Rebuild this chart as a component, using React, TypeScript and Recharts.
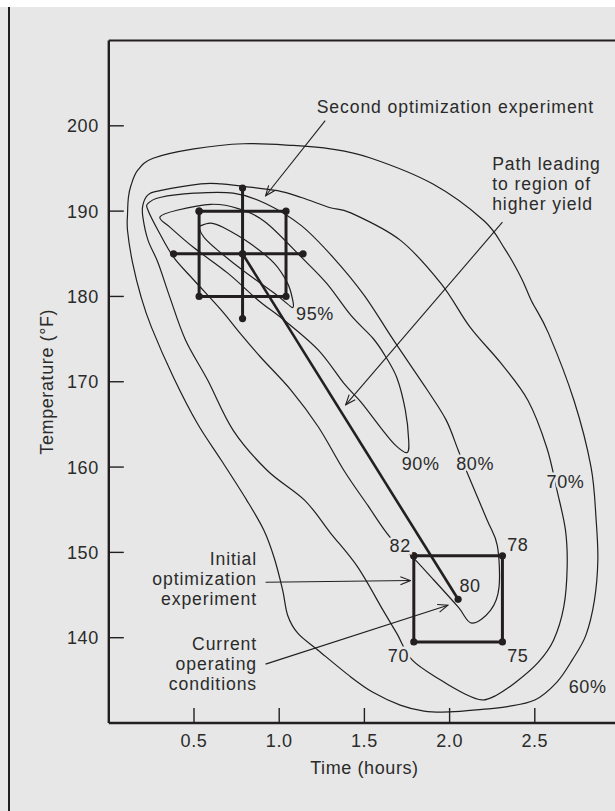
import React from "react";
import { ComposedChart, Line, XAxis, YAxis, ReferenceLine, ReferenceDot } from "recharts";

const INK = "#231f20";
const TEXT = "#2b2b2b";
const BG = "#e6e7e6";
const FONT = "'Liberation Sans', Arial, sans-serif";

const timeTicks = [0.5, 1.0, 1.5, 2.0, 2.5];
const tempTicks = [140, 150, 160, 170, 180, 190, 200];

// yield contours, [time (h), temperature (F)]
const contour60 = [
  [0.11, 189.7], [0.115, 191.6], [0.13, 193.0], [0.17, 194.8], [0.26, 196.2], [0.5, 197.3],
  [0.79, 197.9], [1.08, 197.7], [1.3, 197.3], [1.54, 196.2], [1.9, 193.2], [2.2, 188.9],
  [2.32, 185.7], [2.42, 182.2], [2.48, 179.5], [2.58, 175.7], [2.73, 167.8], [2.83, 160.0],
  [2.86, 153.8], [2.87, 149.1], [2.85, 144.4], [2.8, 140.3], [2.72, 137.4], [2.63, 134.8],
  [2.5, 132.7], [2.33, 131.9], [2.19, 131.6], [2.0, 131.3], [1.85, 131.4], [1.71, 132.1],
  [1.55, 133.6], [1.42, 135.4], [1.23, 138.5], [1.11, 140.5], [1.05, 142.6], [1.02, 145.6],
  [0.97, 149.4], [0.91, 152.6], [0.81, 156.1], [0.66, 160.8], [0.52, 165.1], [0.38, 170.5],
  [0.25, 176.4], [0.19, 179.9], [0.14, 183.9], [0.11, 187.7],
];
const contour70 = [
  [0.2, 190.7], [0.23, 191.9], [0.3, 192.4], [0.54, 193.2], [0.66, 193.2], [0.79, 192.9],
  [0.99, 192.4], [1.13, 191.6], [1.3, 190.4], [1.42, 189.8], [1.71, 186.6], [1.95, 181.5],
  [2.12, 176.4], [2.3, 172.2], [2.46, 167.8], [2.57, 162.3], [2.63, 157.3], [2.68, 152.6],
  [2.69, 148.3], [2.67, 143.6], [2.61, 139.7], [2.52, 137.1], [2.39, 134.8], [2.27, 133.2],
  [2.19, 132.7], [2.09, 133.4], [1.95, 135.0], [1.78, 137.4], [1.69, 140.5], [1.61, 143.2],
  [1.46, 148.3], [1.3, 152.3], [1.15, 156.1], [0.93, 159.6], [0.73, 164.3], [0.58, 170.2],
  [0.45, 174.9], [0.36, 179.8], [0.29, 183.9], [0.23, 186.6], [0.2, 189.3],
];
const contour80 = [
  [0.23, 190.9], [0.3, 191.6], [0.5, 192.1], [0.73, 192.1], [0.92, 190.9], [1.13, 188.3],
  [1.32, 184.5], [1.5, 180.1], [1.67, 174.9], [1.87, 169.0], [1.98, 165.5], [2.05, 162.0],
  [2.11, 159.0], [2.22, 153.8], [2.28, 150.8], [2.29, 145.9], [2.24, 143.2], [2.13, 141.7],
  [2.05, 143.6], [1.91, 146.7], [1.77, 149.7], [1.65, 151.8], [1.52, 155.5], [1.38, 159.6],
  [1.23, 164.7], [1.07, 169.0], [0.89, 172.9], [0.77, 175.7], [0.66, 178.4], [0.5, 181.9],
  [0.38, 184.6], [0.29, 187.7], [0.23, 190.1],
];
const contour90 = [
  [0.3, 189.3], [0.4, 190.1], [0.6, 190.8], [0.76, 190.3], [0.92, 188.7], [1.13, 184.6],
  [1.28, 181.5], [1.42, 177.8], [1.55, 175.1], [1.62, 173.1], [1.69, 170.5], [1.74, 166.7],
  [1.76, 163.1], [1.75, 161.7], [1.68, 162.6], [1.6, 164.5], [1.48, 167.6], [1.38, 169.8],
  [1.23, 173.7], [1.03, 177.2], [0.88, 179.5], [0.7, 182.7], [0.5, 185.7], [0.36, 188.1],
];
const contour95 = [
  [0.54, 188.3], [0.6, 188.6], [0.67, 188.1], [0.83, 186.2], [0.97, 183.9], [1.05, 181.5],
  [1.08, 179.5], [1.08, 178.7], [1.05, 179.1], [0.97, 180.4], [0.79, 183.0], [0.64, 185.4],
  [0.56, 186.9], [0.53, 188.0],
];

// experiments
const secondBox = [[0.53, 190], [1.04, 190], [1.04, 180], [0.53, 180], [0.53, 190]];
const secondAcross = [[0.38, 185], [0.785, 185], [1.14, 185]];
const secondUpDown = [[0.785, 192.7], [0.785, 177.4]];
const firstBox = [[1.79, 149.6], [2.31, 149.6], [2.31, 139.5], [1.79, 139.5], [1.79, 149.6]];
const steepestPath = [[0.785, 185], [2.05, 144.5]];

// callout arrows, tail then head
const arrows = [
  [[1.27, 200.6], [0.92, 191.8]],
  [[2.31, 188.7], [1.39, 167.3]],
  [[0.92, 146.5], [1.77, 146.7]],
  [[0.92, 136.9], [1.99, 143.8]],
];

const percentLabels = [
  { x: 1.21, y: 177.2, text: "95%" },
  { x: 1.83, y: 159.7, text: "90%" },
  { x: 2.15, y: 159.7, text: "80%" },
  { x: 2.68, y: 157.6, text: "70%" },
  { x: 2.81, y: 133.5, text: "60%" },
];
const cornerYields = [
  { x: 1.71, y: 150.1, text: "82" },
  { x: 2.4, y: 150.2, text: "78" },
  { x: 2.12, y: 145.3, text: "80" },
  { x: 1.7, y: 137.2, text: "70" },
  { x: 2.4, y: 137.2, text: "75" },
];
const notes = [
  { x: 1.22, y: 201.5, anchor: "start", lines: ["Second optimization experiment"] },
  { x: 2.25, y: 194.8, anchor: "start", lines: ["Path leading", "to region of", "higher yield"] },
  { x: 0.87, y: 148.5, anchor: "end", lines: ["Initial", "optimization", "experiment"] },
  { x: 0.87, y: 138.6, anchor: "end", lines: ["Current", "operating", "conditions"] },
];

const toPoints = (pts: number[][]) => pts.map(([x, y]) => ({ x, y }));

// closed Catmull-Rom through the contour points
const closedSpline = (ctx: any) => {
  let pts: number[][] = [];
  return {
    areaStart() {},
    areaEnd() {},
    lineStart() {
      pts = [];
    },
    point(x: number, y: number) {
      pts.push([x, y]);
    },
    lineEnd() {
      const n = pts.length;
      if (n < 3) return;
      ctx.moveTo(pts[0][0], pts[0][1]);
      for (let i = 0; i < n; i++) {
        const a = pts[(i + n - 1) % n];
        const b = pts[i];
        const c = pts[(i + 1) % n];
        const d = pts[(i + 2) % n];
        ctx.bezierCurveTo(
          b[0] + (c[0] - a[0]) / 6,
          b[1] + (c[1] - a[1]) / 6,
          c[0] - (d[0] - b[0]) / 6,
          c[1] - (d[1] - b[1]) / 6,
          c[0],
          c[1]
        );
      }
      ctx.closePath();
    },
  };
};

const textStyle = { fontFamily: FONT, fontSize: 18, fill: TEXT, letterSpacing: 0.6 };
const noteStyle = { fontFamily: FONT, fontSize: 17.6, fill: TEXT, letterSpacing: 0.9 };

function YTick({ x, y, payload }: any) {
  return (
    <g>
      <line x1={x + 10} x2={x + 25} y1={y} y2={y} stroke={INK} strokeWidth={1.4} />
      <text x={x} y={y} dy={6.5} textAnchor="end" style={textStyle}>
        {payload.value}
      </text>
    </g>
  );
}

function XTick({ x, y, payload }: any) {
  return (
    <g>
      <line x1={x} x2={x} y1={y} y2={y - 15} stroke={INK} strokeWidth={1.4} />
      <text x={x} y={y + 24} textAnchor="middle" style={textStyle}>
        {Number(payload.value).toFixed(1)}
      </text>
    </g>
  );
}

export default function App() {
  const contours = [contour60, contour70, contour80, contour90, contour95];
  const boldDot = { r: 3.6, fill: INK, stroke: "none" };

  return (
    <div
      style={{
        position: "fixed",
        left: 0,
        top: 0,
        width: 615,
        height: 811,
        overflow: "hidden",
        background: "#fff",
      }}
    >
      <div style={{ position: "absolute", left: 0, top: 7, width: 615, height: 804, background: BG }} />
      <div style={{ position: "absolute", left: 7.5, top: 7, width: 2.6, height: 804, background: INK }} />
      <div style={{ position: "absolute", left: 0, top: 0 }}>
        <ComposedChart
          width={640}
          height={811}
          margin={{ top: 40.5, right: 20, bottom: 58, left: 48.8 }}
        >
          <defs>
            <marker
              id="arrowHead"
              viewBox="0 0 12 10"
              refX={11}
              refY={5}
              markerWidth={12}
              markerHeight={10}
              markerUnits="userSpaceOnUse"
              orient="auto"
            >
              <path d="M1,1 L11,5 L1,9" fill="none" stroke={INK} strokeWidth={1.1} />
            </marker>
          </defs>
          <XAxis
            type="number"
            dataKey="x"
            domain={[0, 3]}
            ticks={timeTicks}
            allowDataOverflow
            height={30}
            tickSize={0}
            tickMargin={0}
            tick={<XTick />}
            axisLine={{ stroke: INK, strokeWidth: 2.4 }}
            tickLine={false}
            label={{
              content: (p: any) => (
                <text
                  x={p.viewBox.x + p.viewBox.width / 2}
                  y={p.viewBox.y + 51}
                  textAnchor="middle"
                  style={textStyle}
                >
                  Time (hours)
                </text>
              ),
            }}
          />
          <YAxis
            type="number"
            dataKey="y"
            domain={[130, 210]}
            ticks={tempTicks}
            allowDataOverflow
            width={60}
            tickSize={0}
            tickMargin={10}
            tick={<YTick />}
            axisLine={{ stroke: INK, strokeWidth: 2.4 }}
            tickLine={false}
            label={{
              content: (p: any) => {
                const cx = p.viewBox.x + 4;
                const cy = p.viewBox.y + p.viewBox.height / 2;
                return (
                  <text
                    x={cx}
                    y={cy}
                    textAnchor="middle"
                    transform={`rotate(-90, ${cx}, ${cy})`}
                    style={textStyle}
                  >
                    Temperature (°F)
                  </text>
                );
              },
            }}
          />
          <ReferenceLine y={210} stroke={INK} strokeWidth={2.2} ifOverflow="visible" />

          {contours.map((c, i) => (
            <Line
              key={`contour-${i}`}
              data={toPoints(c)}
              dataKey="y"
              type={closedSpline as any}
              stroke={INK}
              strokeWidth={1.2}
              dot={false}
              activeDot={false}
              isAnimationActive={false}
            />
          ))}

          {arrows.map((a, i) => (
            <Line
              key={`arrow-${i}`}
              data={toPoints(a)}
              dataKey="y"
              type="linear"
              stroke={INK}
              strokeWidth={1.1}
              markerEnd="url(#arrowHead)"
              dot={false}
              activeDot={false}
              isAnimationActive={false}
            />
          ))}

          {[secondBox, secondAcross, secondUpDown, firstBox].map((s, i) => (
            <Line
              key={`exp-${i}`}
              data={toPoints(s)}
              dataKey="y"
              type="linear"
              stroke={INK}
              strokeWidth={3}
              dot={boldDot}
              activeDot={false}
              isAnimationActive={false}
            />
          ))}
          <Line
            data={toPoints(steepestPath)}
            dataKey="y"
            type="linear"
            stroke={INK}
            strokeWidth={2.6}
            dot={boldDot}
            activeDot={false}
            isAnimationActive={false}
          />

          {[...percentLabels, ...cornerYields].map((l) => (
            <ReferenceDot
              key={l.text}
              x={l.x}
              y={l.y}
              r={0}
              ifOverflow="visible"
              shape={(p: any) => (
                <text
                  x={p.cx}
                  y={p.cy}
                  textAnchor="middle"
                  stroke={BG}
                  strokeWidth={5}
                  paintOrder="stroke"
                  style={textStyle}
                >
                  {l.text}
                </text>
              )}
            />
          ))}

          {notes.map((n) =>
            n.lines.map((t, i) => (
              <ReferenceDot
                key={t}
                x={n.x}
                y={n.y}
                r={0}
                ifOverflow="visible"
                shape={(p: any) => (
                  <text x={p.cx} y={p.cy + i * 20} textAnchor={n.anchor} style={noteStyle}>
                    {t}
                  </text>
                )}
              />
            ))
          )}
        </ComposedChart>
      </div>
    </div>
  );
}
